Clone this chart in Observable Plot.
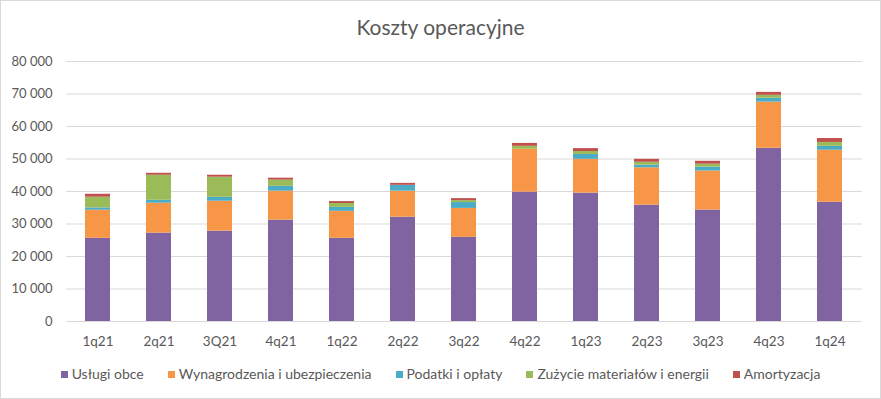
<!DOCTYPE html>
<html>
<head>
<meta charset="utf-8">
<script src="https://cdn.jsdelivr.net/npm/d3@7"></script>
<script src="https://cdn.jsdelivr.net/npm/@observablehq/plot@0.6"></script>
<style>
  html, body { margin: 0; padding: 0; background: #fff; }
  #wrap { position: relative; width: 881px; height: 399px; overflow: hidden; font-family: Lato, "Open Sans", sans-serif; color: #595959; }
  #title { position: absolute; top: 14px; left: 0; width: 881px; text-align: center; font-size: 21px; line-height: 26px; color: #595959; }
  #chart { position: absolute; top: 50px; left: 0; }
  #legend { position: absolute; top: 366px; left: 0; width: 881px; display: flex; justify-content: center; align-items: center; font-size: 14px; line-height: 16px; color: #595959; }
  #legend .item { display: flex; align-items: center; margin: 0 12px; }
  #legend .sw { width: 7px; height: 7px; margin-right: 4px; }
  #frame { position: absolute; left: 0; top: 0; width: 879px; height: 397px; border: 1px solid #d9d9d9; pointer-events: none; }
</style>
</head>
<body>
<div id="wrap">
  <div id="title">Koszty operacyjne</div>
  <div id="chart"></div>
  <div id="legend"></div>
  <div id="frame"></div>
</div>
<script>
const categories = ["1q21","2q21","3Q21","4q21","1q22","2q22","3q22","4q22","1q23","2q23","3q23","4q23","1q24"];
const seriesNames = ["Usługi obce","Wynagrodzenia i ubezpieczenia","Podatki i opłaty","Zużycie materiałów i energii","Amortyzacja"];
const seriesColors = ["#8064A2","#F79646","#4BACC6","#9BBB59","#C0504D"];
const uslugiObce     = [25600,27200,27800,31200,25600,32100,25900,39800,39500,35800,34300,53300,36700];
const wynagrodzenia  = [8650, 9200, 9200, 8900, 8300, 8000, 8900, 13200,10400,11500,12000,14200,16000];
const podatki        = [700,  900,  1200, 1500, 1200, 1800, 1800, 0,    1500, 800,  1200, 1200, 1200];
const zuzycie        = [3300, 7700, 6200, 1900, 1200, 0,    600,  900,  900,  900,  900,  900,  1200];
const amortyzacja    = [900,  600,  600,  600,  600,  600,  600,  900,  900,  900,  900,  900,  1200];
const yTicks = [0,10000,20000,30000,40000,50000,60000,70000,80000];

const seriesValues = [uslugiObce, wynagrodzenia, podatki, zuzycie, amortyzacja];
const data = [];
seriesNames.forEach((s, si) => {
  categories.forEach((c, ci) => data.push({category: c, series: s, value: seriesValues[si][ci]}));
});

const fmt = d => d3.format(",")(d).replace(/,/g, "\u00a0");

const chart = Plot.plot({
  width: 881,
  height: 305,
  marginLeft: 66,
  marginRight: 19,
  marginTop: 11,
  marginBottom: 34,
  style: {fontFamily: "Lato, 'Open Sans', sans-serif", fontSize: "13px", color: "#595959", background: "transparent"},
  x: {domain: categories, paddingInner: 0.59, paddingOuter: 0.295, label: null},
  y: {domain: [0, 80000], label: null},
  color: {domain: seriesNames, range: seriesColors},
  marks: [
    Plot.gridY(yTicks, {stroke: "#d9d9d9", strokeOpacity: 1, strokeWidth: 1}),
    Plot.barY(data, {x: "category", y: "value", fill: "series", z: "series"}),
    Plot.ruleY([0], {stroke: "#d9d9d9", strokeWidth: 1}),
    Plot.axisY(yTicks, {tickSize: 0, tickPadding: 14, tickFormat: fmt, label: null, fontSize: 13}),
    Plot.axisX({tickSize: 0, tickPadding: 15, label: null, fontSize: 13.5})
  ]
});
document.getElementById("chart").appendChild(chart);

const legend = document.getElementById("legend");
seriesNames.forEach((s, i) => {
  const item = document.createElement("div");
  item.className = "item";
  const sw = document.createElement("span");
  sw.className = "sw";
  sw.style.background = seriesColors[i];
  const t = document.createElement("span");
  t.textContent = s;
  item.appendChild(sw);
  item.appendChild(t);
  legend.appendChild(item);
});
</script>
</body>
</html>
